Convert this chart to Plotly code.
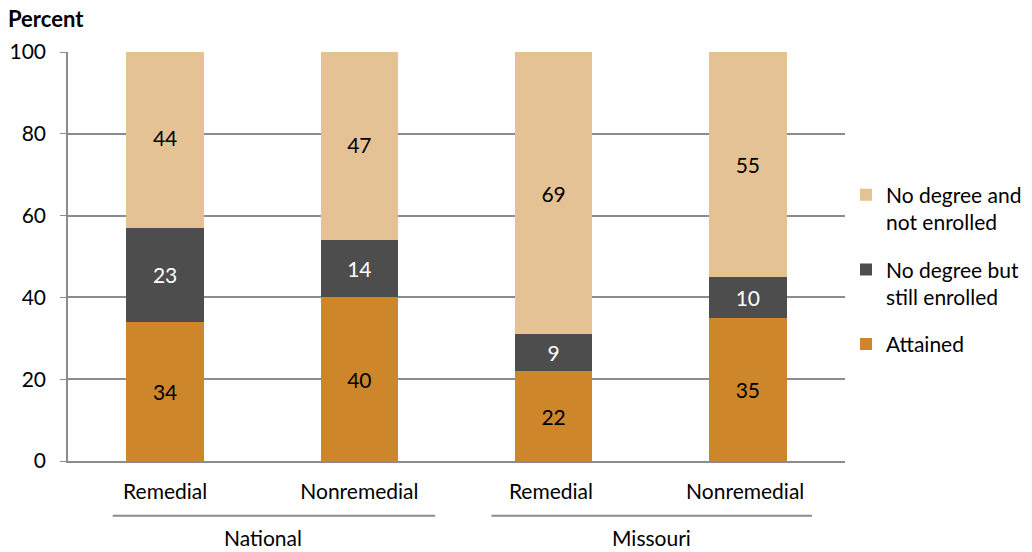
import plotly.graph_objects as go

categories = ["Remedial", "Nonremedial", "Remedial ", "Nonremedial "]
groups = ["National", "Missouri"]
attained = [34, 40, 22, 35]
still_enrolled = [23, 14, 9, 10]
not_enrolled = [44, 47, 69, 55]
y_ticks = [0, 20, 40, 60, 80, 100]

FONT = "Lato, Open Sans, sans-serif"
FS = 21
C_ATT = "#CD862A"
C_ENR = "#4D4D4D"
C_NOT = "#E4C294"

fig = go.Figure()
series = [
    ("Attained", attained, C_ATT, "black"),
    ("No degree but<br>still enrolled", still_enrolled, C_ENR, "white"),
    ("No degree and<br>not enrolled", not_enrolled, C_NOT, "black"),
]
for i, (name, vals, col, tcol) in enumerate(series):
    fig.add_trace(go.Bar(
        x=categories, y=vals, name=name, marker=dict(color=col, line=dict(width=0)),
        width=0.4, text=[str(v) for v in vals], textposition="inside",
        insidetextanchor="middle", textangle=0,
        textfont=dict(family=FONT, size=FS, color=tcol),
        legendgroup=f"g{i}", legendrank=len(series) - i, cliponaxis=True,
    ))

fig.update_layout(
    barmode="stack",
    width=1032, height=552,
    margin=dict(l=68, r=187, t=52, b=91, autoexpand=False),
    plot_bgcolor="white", paper_bgcolor="white",
    font=dict(family=FONT, size=FS, color="black"),
    uniformtext=dict(minsize=FS, mode="show"),
    legend=dict(
        xref="container", x=846 / 1032, y=0.70, xanchor="left", yanchor="top",
        traceorder="grouped", valign="top", tracegroupgap=17,
        font=dict(family=FONT, size=21, color="black"),
    ),
    xaxis=dict(
        type="category", showgrid=False, showline=True, linecolor="#8C8C8C",
        linewidth=1.5, ticks="", ticklabelstandoff=11,
        tickfont=dict(family=FONT, size=FS),
    ),
    yaxis=dict(
        range=[0, 100], tickvals=y_ticks, showgrid=True, gridcolor="#8C8C8C",
        gridwidth=1.5, showline=True, linecolor="#8C8C8C", linewidth=1.5,
        ticks="outside", ticklen=6, tickcolor="#8C8C8C", ticklabelstandoff=10,
        tickfont=dict(family=FONT, size=FS), zeroline=False,
    ),
)

fig.add_annotation(text="<b>Percent</b>", xref="paper", yref="paper",
                   x=-0.08, y=1.045, xanchor="left", yanchor="bottom",
                   showarrow=False, font=dict(family=FONT, size=22))

group_spans = [(-0.27, 1.39), (1.68, 3.33)]
for name, (x0, x1) in zip(groups, group_spans):
    fig.add_shape(type="line", xref="x", yref="paper", x0=x0, x1=x1,
                  y0=-0.134, y1=-0.134, line=dict(color="#8C8C8C", width=2))
    fig.add_annotation(text=name, xref="x", yref="paper", x=(x0 + x1) / 2 - (0.055 if name == "National" else 0),
                       y=-0.188, showarrow=False, yanchor="middle",
                       font=dict(family=FONT, size=FS))

fig.write_html("out.html")
